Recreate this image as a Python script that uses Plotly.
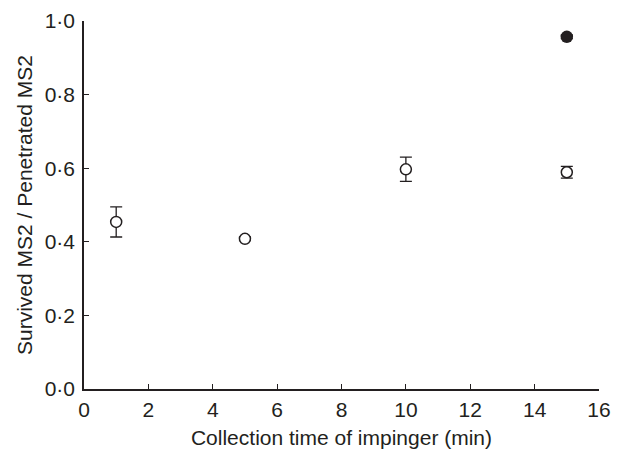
import plotly.graph_objects as go

# Data
x_open = [1, 5, 10, 15]
y_open = [0.454, 0.408, 0.597, 0.589]
err_open = [0.041, 0.005, 0.033, 0.016]

x_filled = [15]
y_filled = [0.957]
err_filled = [0.005]

x_tickvals = [0, 2, 4, 6, 8, 10, 12, 14, 16]
x_ticktext = ["0", "2", "4", "6", "8", "10", "12", "14", "16"]
y_tickvals = [0.0, 0.2, 0.4, 0.6, 0.8, 1.0]
y_ticktext = ["0·0", "0·2", "0·4", "0·6", "0·8", "1·0"]

font_family = "Liberation Sans, Arial, Helvetica, sans-serif"
ink = "#231f20"

fig = go.Figure()
fig.add_trace(go.Scatter(
    x=x_open, y=y_open, mode="markers",
    error_y=dict(type="data", array=err_open, visible=True, color=ink, thickness=1.3, width=6),
    marker=dict(symbol="circle", size=11, color="white", line=dict(width=1.5, color=ink)),
    showlegend=False,
))
fig.add_trace(go.Scatter(
    x=x_filled, y=y_filled, mode="markers",
    error_y=dict(type="data", array=err_filled, visible=True, color=ink, thickness=1.3, width=6),
    marker=dict(symbol="circle", size=12.5, color=ink, line=dict(width=0)),
    showlegend=False,
))

fig.update_layout(
    width=614, height=442,
    margin=dict(l=76, r=23, t=13, b=61),
    paper_bgcolor="white", plot_bgcolor="white",
    font=dict(family=font_family, color=ink),
    xaxis=dict(
        range=[0, 16], tickvals=x_tickvals, ticktext=x_ticktext,
        ticks="inside", ticklen=5, tickwidth=1.3, tickcolor=ink,
        showline=True, linecolor=ink, linewidth=1.5,
        showgrid=False, zeroline=False, automargin=False,
        tickfont=dict(size=21, color=ink), ticklabelstandoff=1,
        title=dict(text="Collection time of impinger (min)", font=dict(size=21, color=ink), standoff=10),
    ),
    yaxis=dict(
        range=[0, 1], tickvals=y_tickvals, ticktext=y_ticktext,
        ticks="inside", ticklen=5, tickwidth=1.3, tickcolor=ink,
        showline=True, linecolor=ink, linewidth=1.5,
        showgrid=False, zeroline=False, automargin=False,
        tickfont=dict(size=21, color=ink), ticklabelstandoff=3,
        title=dict(text="Survived MS2 / Penetrated MS2", font=dict(size=21, color=ink), standoff=6),
    ),
)

fig.write_html("out.html")
